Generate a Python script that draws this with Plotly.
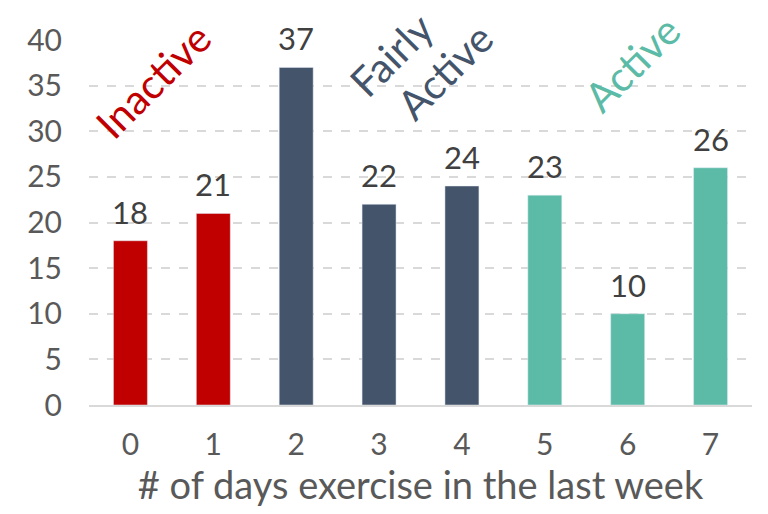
import plotly.graph_objects as go

categories = ["0", "1", "2", "3", "4", "5", "6", "7"]
values = [18, 21, 37, 22, 24, 23, 10, 26]
groups = ["Inactive", "Inactive", "Fairly Active", "Fairly Active", "Fairly Active", "Active", "Active", "Active"]
group_colors = {"Inactive": "#C00000", "Fairly Active": "#44546A", "Active": "#5CBBA6"}
y_ticks = [0, 5, 10, 15, 20, 25, 30, 35, 40]

FONT = "Lato, 'DejaVu Sans', sans-serif"

fig = go.Figure()
fig.add_trace(go.Bar(
    x=list(range(len(categories))),
    y=values,
    marker_color=[group_colors[g] for g in groups],
    cliponaxis=False,
    width=0.41,
))

for i, v in enumerate(values):
    fig.add_annotation(x=i, y=v, xref="x", yref="y", text=str(v), showarrow=False,
                       yanchor="bottom", yshift=8,
                       font=dict(family=FONT, size=31, color="#404040"))

annotations = [
    dict(text="Inactive", x=0.27, y=35.6, color=group_colors["Inactive"]),
    dict(text="Fairly", x=3.15, y=38.4, color=group_colors["Fairly Active"]),
    dict(text="Active", x=3.79, y=36.5, color=group_colors["Fairly Active"]),
    dict(text="Active", x=6.05, y=37.4, color=group_colors["Active"]),
]
for a in annotations:
    fig.add_annotation(x=a["x"], y=a["y"], xref="x", yref="y", text=a["text"],
                       showarrow=False, textangle=-45, borderpad=0,
                       font=dict(family=FONT, size=41, color=a["color"]))

fig.update_layout(
    width=768, height=514,
    margin=dict(l=89, r=16, t=40, b=109),
    plot_bgcolor="white", paper_bgcolor="white",
    showlegend=False,
    font=dict(family=FONT, color="#595959"),
)
fig.update_xaxes(
    tickmode="array", tickvals=list(range(len(categories))), ticktext=categories,
    range=[-0.5, 7.5],
    tickfont=dict(size=30, color="#595959"),
    showline=True, linecolor="#D9D9D9", linewidth=2,
    showgrid=False, ticks="",
    title=dict(text="# of days exercise in the last week", font=dict(size=38, color="#595959"), standoff=12),
    ticklabelstandoff=12,
)
fig.update_yaxes(
    range=[0, 40], tickvals=y_ticks,
    tickfont=dict(size=30, color="#595959"),
    showgrid=True, gridcolor="#D9D9D9", griddash="dash", gridwidth=1.5,
    zeroline=False, ticks="",
    ticklabelstandoff=26,
)

fig.write_html("out.html")
